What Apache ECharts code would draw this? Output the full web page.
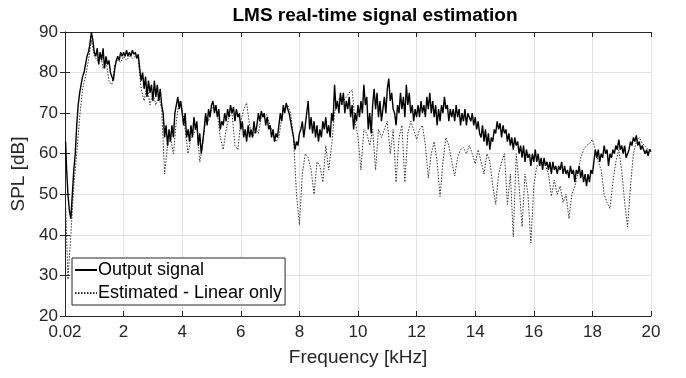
<!DOCTYPE html>
<html>
<head>
<meta charset="utf-8">
<script src="https://cdn.jsdelivr.net/npm/echarts@6/dist/echarts.min.js"></script>
<style>
  html, body { margin: 0; padding: 0; background: #fff; }
  #chart { width: 686px; height: 378px; }
</style>
</head>
<body>
<div id="chart"></div>
<script>
// frequency grids in kHz: first bin at 0.02, then fixed steps up to 20
const outFreqKHz = [0.02].concat(Array.from({ length: 400 }, (_, i) => +((i + 1) * 0.05).toFixed(2)));
const estFreqKHz = [0.02].concat(Array.from({ length: 200 }, (_, i) => +((i + 1) * 0.1).toFixed(1)));

// Output signal SPL [dB], 0.05 kHz steps (one line = 1 kHz)
const outputSpl = [
  63,
  57, 50, 46, 44, 50, 56, 60, 67, 72, 75, 77, 79, 80, 82, 84, 85, 87, 90, 88, 85,
  84, 86, 82, 85, 83, 86, 81, 84, 82, 83, 80, 79, 78, 81, 83, 84, 83, 85, 84, 85,
  84, 85.5, 84, 85, 84, 85.5, 84.5, 85, 83.5, 84.5, 81, 78, 80, 76, 79, 74, 78, 75, 77, 73,
  78, 74, 77, 73, 76, 72, 70, 64, 67, 62, 66, 63, 67, 64, 70, 72, 74, 71, 73, 70,
  67, 70, 64, 66, 63, 67, 64, 69, 66, 68, 62, 65, 60, 63, 66, 70, 67, 71, 69, 72,
  73, 70, 72, 69, 71, 66, 68, 67, 70, 68, 71, 69, 72, 70, 71.5, 68, 71, 69, 70, 66,
  68, 64, 66, 63, 67, 64, 66, 64, 68, 65, 67, 70, 68, 70.5, 69, 70, 67, 69, 66, 67,
  64, 66, 63, 65, 64, 67, 70, 68, 72, 70, 72.5, 71, 70, 68, 66, 64, 61, 63, 62, 65,
  66, 68, 64, 67, 70, 73, 66, 69, 65, 68, 64, 67, 63, 66, 64, 68, 66, 69, 65, 67,
  64, 70, 68, 77, 71, 73, 70, 75, 72, 75, 70, 73, 71, 74, 69, 72, 66, 70, 68, 72,
  69, 73, 70, 77, 72, 74, 66, 70, 65, 72, 76, 71, 75, 69, 73, 68, 71, 74, 70, 76,
  78.5, 73, 75, 71, 70, 67, 72, 70, 75, 71, 74, 69, 77, 72, 75, 70, 72, 68, 71, 69,
  72, 69, 73, 70, 72, 69, 74, 71, 75, 70, 73, 69, 72, 67, 71, 68, 72, 70, 74, 71,
  72, 68, 71, 69, 71, 68, 72, 69, 71, 67, 70, 68, 71, 67, 70, 69, 68, 70, 67, 69,
  66, 68, 65, 64, 67, 63, 66, 62, 65, 61, 64, 63, 66, 65, 68, 66, 67.5, 64, 67, 65,
  66, 63, 65, 62, 64, 61, 64, 62, 63, 60, 62, 59, 62, 58, 61, 59, 60, 57, 60, 58,
  61, 58, 60, 57, 59, 56, 59, 57, 58, 56, 58, 55, 58, 56, 57, 55, 57, 56, 58, 55,
  57, 55, 56, 54, 57, 55, 56, 53, 56, 55, 57, 54, 56, 53, 55, 52, 55, 53, 56, 55,
  58, 61, 59, 61, 58, 60, 59, 62, 60, 61, 57, 60, 59, 61, 60, 62, 61, 63.5, 61, 62,
  60, 62, 59, 60, 61, 63, 62, 64, 63, 64.5, 62, 63, 61, 62, 61, 60, 61, 59.5, 61, 60.5
];

// Estimated - Linear only SPL [dB], 0.1 kHz steps (one line = 1 kHz)
const estimatedSpl = [
  48,
  29, 40, 52, 60, 69, 76, 79, 83, 88, 84,
  83, 85, 81, 83, 78, 77, 82, 83, 82.5, 84,
  83, 84, 83.5, 84, 83, 76, 73, 77, 72, 75,
  72, 74, 71, 55, 62, 64, 60, 68, 73, 71,
  66, 60, 64, 65, 67, 58, 62, 69, 68, 71,
  72, 70, 64, 61, 66, 69, 70, 62, 61, 68,
  71, 72.5, 67, 64, 66, 65, 69, 70, 69.5, 67,
  65, 63, 64, 69, 71, 72, 70, 64, 50, 42.5,
  55, 60, 59, 56, 50, 58, 57, 53, 62, 56,
  62, 70, 73, 74, 73, 74, 75, 75.8, 68, 64,
  56, 66, 65, 62, 66, 56, 66, 64, 66, 68,
  60, 66, 53, 64, 67, 53, 65, 68, 66, 63.5,
  66, 67, 62, 54, 60, 63, 58, 49.5, 58, 64,
  62, 58, 54.5, 59, 61, 61.5, 60, 62, 60, 57.5,
  61, 58, 55, 60, 58, 52, 47.5, 55, 58, 60,
  47.5, 55, 39.5, 60, 52, 42, 55, 50, 38, 52,
  57, 57, 58, 57, 55, 49.5, 53.5, 50, 52, 48,
  50, 44, 50, 52, 55, 59, 61, 62, 62.5, 63.5,
  61, 58, 56, 50, 48, 46.5, 53, 58, 61, 56,
  48, 42, 52, 60, 63, 64, 62.5, 62, 61, 61
];

const seriesNames = ['Output signal', 'Estimated - Linear only'];

const zip = (xs, ys) => xs.map((x, i) => [x, ys[i]]);

const ink = '#262626';
const font = 'Liberation Sans, Arial, Helvetica, sans-serif';

const chart = echarts.init(document.getElementById('chart'), null, { renderer: 'canvas' });

const boxAxis = {
  axisLine: { show: true, lineStyle: { color: ink, width: 1 } },
  axisTick: { show: true, inside: true, length: 5, lineStyle: { color: ink } },
  axisLabel: { show: false },
  splitLine: { show: false }
};

chart.setOption({
  animation: false,
  backgroundColor: '#fff',
  title: {
    text: 'LMS real-time signal estimation',
    left: 370,
    textAlign: 'center',
    top: 1,
    textStyle: { fontFamily: font, fontSize: 19, fontWeight: 'bold', color: '#000' }
  },
  grid: { left: 65, right: 35, top: 32, bottom: 62 },
  legend: {
    data: seriesNames,
    orient: 'vertical',
    left: 72,
    top: 258,
    padding: [3, 3, 3, 2],
    itemGap: 5,
    itemWidth: 22,
    itemHeight: 18,
    backgroundColor: '#fff',
    borderColor: ink,
    borderWidth: 1,
    borderRadius: 0,
    itemStyle: { color: 'rgba(0,0,0,0)', borderWidth: 0, opacity: 0 },
    textStyle: { fontFamily: font, fontSize: 18, color: '#000', padding: [0, 0, 0, -4] }
  },
  xAxis: [
    {
      type: 'value',
      min: 0,
      max: 20,
      interval: 2,
      name: 'Frequency [kHz]',
      nameLocation: 'middle',
      nameGap: 32,
      nameTextStyle: { fontFamily: font, fontSize: 19, color: ink },
      axisLine: { show: true, onZero: false, lineStyle: { color: ink } },
      axisTick: { show: true, inside: true, length: 5, lineStyle: { color: ink } },
      axisLabel: {
        fontFamily: font, fontSize: 17, color: ink, margin: 8,
        formatter: v => (v === 0 ? '0.02' : String(v))
      },
      splitLine: { show: true, lineStyle: { color: '#e3e3e3', width: 1 } }
    },
    Object.assign({ type: 'value', position: 'top', min: 0, max: 20, interval: 2 }, boxAxis)
  ],
  yAxis: [
    {
      type: 'value',
      min: 20,
      max: 90,
      interval: 10,
      name: 'SPL [dB]',
      nameLocation: 'middle',
      nameGap: 33,
      nameTextStyle: { fontFamily: font, fontSize: 19, color: ink },
      axisLine: { show: true, onZero: false, lineStyle: { color: ink } },
      axisTick: { show: true, inside: true, length: 5, lineStyle: { color: ink } },
      axisLabel: { fontFamily: font, fontSize: 17, color: ink, margin: 7 },
      splitLine: { show: true, lineStyle: { color: '#e3e3e3', width: 1 } }
    },
    Object.assign({ type: 'value', position: 'right', min: 20, max: 90, interval: 10 }, boxAxis)
  ],
  series: [
    {
      name: seriesNames[0],
      type: 'line',
      data: zip(outFreqKHz, outputSpl),
      showSymbol: false,
      symbol: 'none',
      lineStyle: { color: '#000', width: 1.4 },
      itemStyle: { color: '#000' },
      z: 3
    },
    {
      name: seriesNames[1],
      type: 'line',
      data: zip(estFreqKHz, estimatedSpl),
      showSymbol: false,
      symbol: 'none',
      lineStyle: { color: '#333', width: 1, type: [1.5, 1.5] },
      itemStyle: { color: '#333' },
      z: 2
    }
  ]
});
</script>
</body>
</html>
